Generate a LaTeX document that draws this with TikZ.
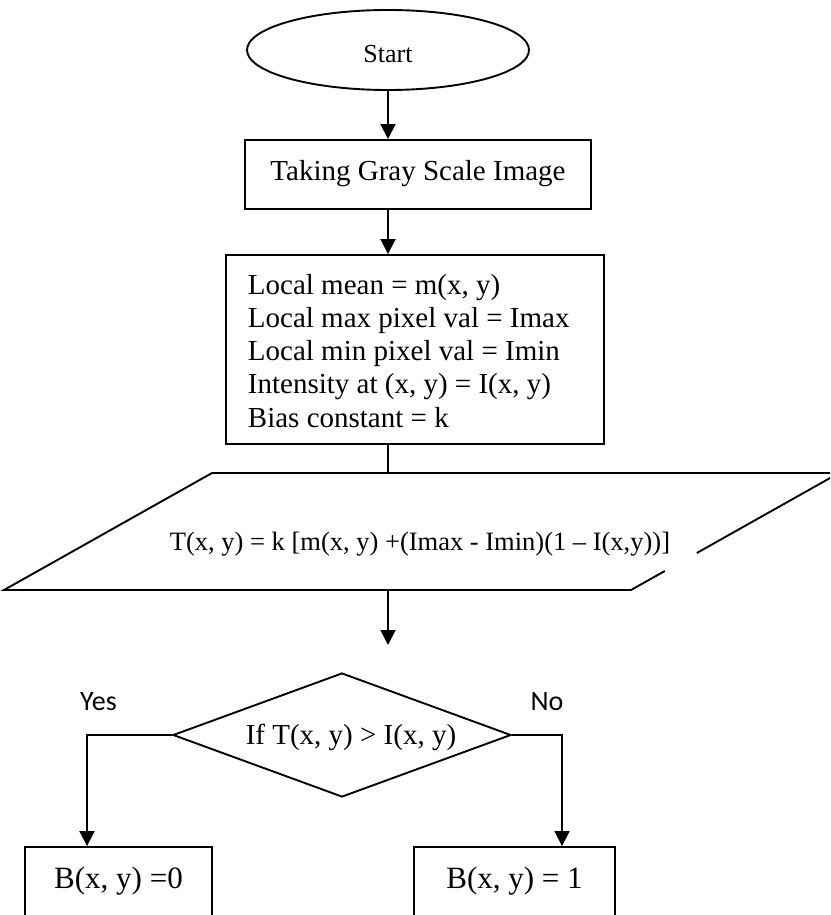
\documentclass[tikz,border=0pt]{standalone}
\usepackage{fontspec}
\setmainfont{Liberation Serif}
\newfontfamily\yesnofont{Carlito}
\usetikzlibrary{shapes.geometric,arrows.meta}
\begin{document}
\begin{tikzpicture}[x=1pt,y=-1pt,
  line width=1.9pt,
  flow/.style={draw, line width=1.9pt, inner sep=0pt},
  arr/.style={-{Triangle[width=15pt,length=15pt]}},
  lbl/.style={font=\yesnofont\fontsize{28}{32}\selectfont, anchor=base, inner sep=0pt},
  txt/.style={font=\fontsize{29}{33.3}\selectfont}
]
\useasboundingbox (0,0) rectangle (830,915);
\clip (0,0) rectangle (830,915);

% Start
\node[flow, ellipse, minimum width=282pt, minimum height=80pt,
      text height=26pt, text depth=0pt, font=\fontsize{26}{30}\selectfont] (start) at (388,50) {Start};

% Taking gray scale image
\node[flow, rectangle, minimum width=346pt, minimum height=69pt,
      text height=11pt, text depth=0pt, txt] (take) at (418,174.5) {Taking Gray Scale Image};

% Local values box
\node[flow, rectangle, minimum width=378pt, minimum height=189pt] (local) at (415,349.5) {};
\node[txt, anchor=base west, inner sep=0pt] (localtext) at (247,294)
  {\begin{tabular}[t]{@{}l@{}}
   Local mean = m(x, y)\\
   Local max pixel val = Imax\\
   Local min pixel val = Imin\\
   Intensity at (x, y) = I(x, y)\\
   Bias constant = k
   \end{tabular}};

% Parallelogram
\coordinate (pTL) at (212,473);
\coordinate (pTR) at (839,473);
\coordinate (pBR) at (631,590);
\coordinate (pBL) at (4,590);
\coordinate (gapA) at (696.8,553);
\coordinate (gapB) at (664.8,571);
\draw (pTR) -- (gapA);
\draw (gapB) -- (pBR) -- (pBL) -- (pTL) -- (pTR);
\node[anchor=base, inner sep=0pt, font=\fontsize{26.5}{30}\selectfont] (formula) at (420,550)
  {T(x, y) = k [m(x, y) +(Imax - Imin)(1 – I(x,y))]};
\coordinate (ptop) at (388,473);
\coordinate (pbot) at (388,590);
\coordinate (dn) at (388,645);

% Decision
\node[flow, diamond, minimum width=338pt, minimum height=124pt, aspect=2.73,
      text height=18pt, text depth=0pt, txt] (dec) at (342,735) {\hspace*{18pt}If T(x, y) > I(x, y)};

\node[lbl] (yes) at (98.5,710) {Yes};
\node[lbl] (no) at (547,710) {No};

% Results
\node[flow, rectangle, minimum width=187pt, minimum height=82pt,
      text height=0pt, text depth=0pt, font=\fontsize{31}{35}\selectfont] (b0) at (118.5,888) {B(x, y) =0};
\node[flow, rectangle, minimum width=201pt, minimum height=82pt,
      text height=0pt, text depth=0pt, font=\fontsize{31}{35}\selectfont] (b1) at (514.5,888) {B(x, y) = 1};
\coordinate (b0x) at (87,800);
\coordinate (b1x) at (562,800);

% Connectors
\draw[arr] (start.south) -- (start.south |- take.north);
\draw[arr] (start.south |- take.south) -- (start.south |- local.north);
\draw (start.south |- local.south) -- (ptop);
\draw[arr] (pbot) -- (dn);
\draw[arr] (dec.west) -| (b0x |- b0.north);
\draw[arr] (dec.east) -| (b1x |- b1.north);
\end{tikzpicture}
\end{document}
